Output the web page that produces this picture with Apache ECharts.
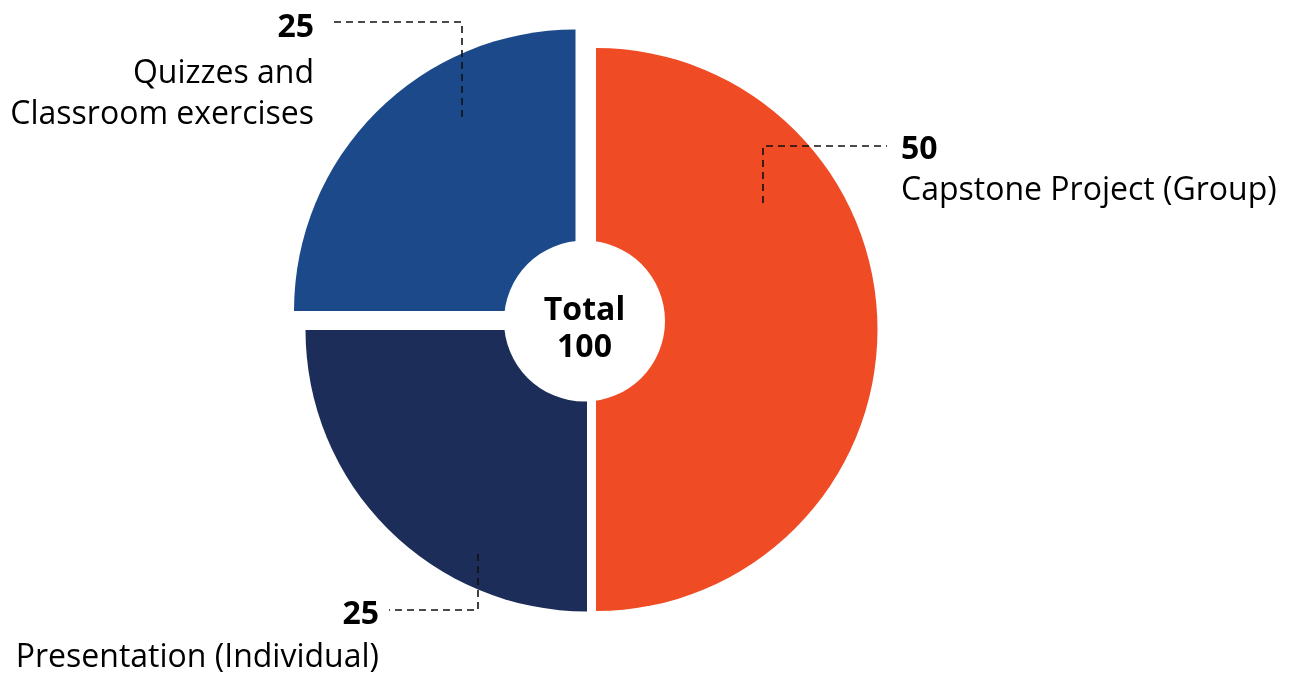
<!DOCTYPE html>
<html>
<head>
<meta charset="utf-8">
<script src="https://cdn.jsdelivr.net/npm/echarts@6/dist/echarts.min.js"></script>
<style>
html,body{margin:0;padding:0;background:#fff;}
#c{width:1295px;height:673px;}
</style>
</head>
<body>
<div id="c"></div>
<script>
// ---- data ----
const categories = ['Capstone Project (Group)', 'Presentation (Individual)', 'Quizzes and\nClassroom exercises'];
const values = [50, 25, 25];
const totalName = 'Total';

// ---- styles / layout (kept apart from the data) ----
const colors = ['#EF4B25', '#1B2D58', '#1B4989'];
const FONT = 'Open Sans';
const sliceCenters = [[596, 329.5], [587, 330], [575.5, 311]];
const sliceRadius = 281.5;
const holeCenter = [584.5, 321];
const holeRadius = 80.5;
const labelPlace = [
  { x: 901, y: 129, align: 'left',  valueLH: 41, line: [[763, 203], [763, 146], [887, 146]] },
  { x: 379, y: 592, align: 'right', valueLH: 45, line: [[478, 554], [478, 610], [389, 610]] },
  { x: 314, y: 2,   align: 'right', valueLH: 51, line: [[462, 117], [462, 22], [332, 22]] }
];

const total = values.reduce((a, b) => a + b, 0);
const CLEAR = 'rgba(0,0,0,0)';

// one series per slice, each offset to its own centre
const sliceSeries = categories.map((_, i) => ({
  type: 'pie',
  center: sliceCenters[i],
  radius: [0, sliceRadius],
  startAngle: 90,
  clockwise: true,
  silent: true,
  animation: false,
  z: 2,
  emphasis: { disabled: true },
  label: { show: false },
  labelLine: { show: false },
  data: categories.map((name, j) => ({
    name: name,
    value: values[j],
    itemStyle: { color: j === i ? colors[j] : CLEAR }
  }))
}));

// transparent overlay series carrying the labels and dashed leaders (drawn above slices)
const labelSeries = {
  type: 'pie',
  center: holeCenter,
  radius: [0, sliceRadius],
  startAngle: 90,
  clockwise: true,
  silent: true,
  animation: false,
  avoidLabelOverlap: false,
  z: 3,
  emphasis: { disabled: true },
  itemStyle: { color: CLEAR },
  data: categories.map((name, j) => ({
    name: name,
    value: values[j],
    label: {
      rich: {
        v: { fontFamily: FONT, fontSize: 32, fontWeight: 'bold', lineHeight: labelPlace[j].valueLH, color: '#000', align: labelPlace[j].align },
        n: { fontFamily: FONT, fontSize: 32, lineHeight: 41, color: '#000', align: labelPlace[j].align }
      }
    }
  })),
  label: {
    show: true,
    position: 'outside',
    color: '#000',
    formatter: p => '{v|' + p.value + '}\n{n|' + p.name + '}'
  },
  labelLine: {
    show: true,
    showAbove: true,
    lineStyle: { type: [7, 5], color: '#111', width: 1.6 }
  },
  labelLayout: params => {
    const place = labelPlace[params.dataIndex];
    return {
      x: place.x,
      y: place.y,
      align: place.align,
      verticalAlign: 'top',
      labelLinePoints: place.line
    };
  }
};

const holeSeries = {
  type: 'pie',
  center: holeCenter,
  radius: [0, holeRadius],
  silent: true,
  animation: false,
  z: 5,
  emphasis: { disabled: true },
  data: [{ name: totalName, value: total }],
  itemStyle: { color: '#fff' },
  label: {
    show: true,
    position: 'center',
    formatter: p => p.name + '\n' + p.value,
    fontFamily: FONT,
    fontSize: 32,
    fontWeight: 'bold',
    lineHeight: 37,
    color: '#000'
  },
  labelLine: { show: false },
  labelLayout: () => ({
    x: holeCenter[0],
    y: holeCenter[1] + 8.5,
    align: 'center',
    verticalAlign: 'middle'
  })
};

const chart = echarts.init(document.getElementById('c'), null, { renderer: 'canvas' });
chart.setOption({
  backgroundColor: '#fff',
  animation: false,
  tooltip: { show: false },
  series: sliceSeries.concat([labelSeries, holeSeries])
});
</script>
</body>
</html>
